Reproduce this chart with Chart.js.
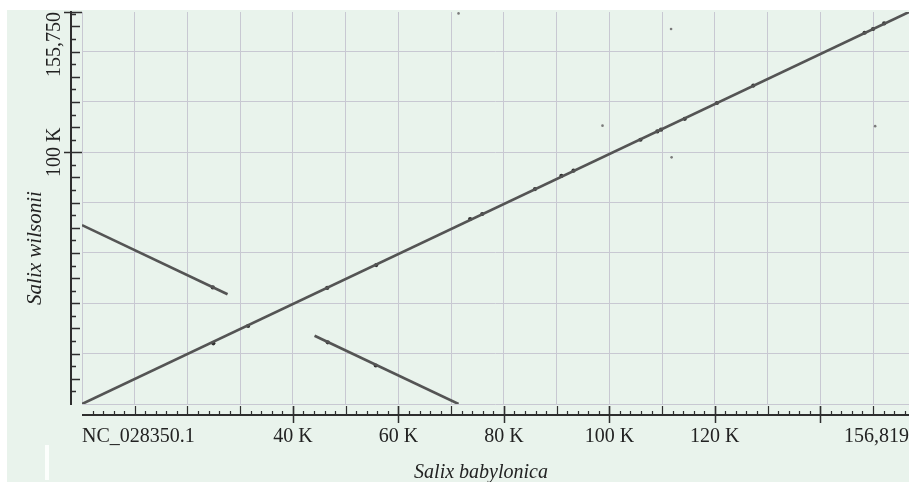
<!DOCTYPE html>
<html>
<head>
<meta charset="utf-8">
<script src="https://cdn.jsdelivr.net/npm/chart.js@4.4.1/dist/chart.umd.min.js"></script>
<style>
  html, body { margin: 0; padding: 0; overflow: hidden; background: #ffffff; width: 909px; height: 482px; }
  #clip { position: absolute; left: 0; top: 0; width: 909px; height: 482px; overflow: hidden; }
  #wrap { position: absolute; left: 0; top: 0; width: 913px; height: 482px; }
</style>
</head>
<body>
<div id="clip"><div id="wrap"><canvas id="c"></canvas></div></div>
<script>
// ---------------- data ----------------
const xAxisMax = 156819;           // Salix babylonica (NC_028350.1) length
const yAxisMax = 155750;           // Salix wilsonii length

const xTickValues = [0, 40000, 60000, 80000, 100000, 120000, 156819];
const xTickLabels = ['NC_028350.1', '40 K', '60 K', '80 K', '100 K', '120 K', '156,819'];
const yTickValues = [100000, 155750];
const yTickLabels = ['100 K', '155,750'];

const xTitle = 'Salix babylonica';
const yTitle = 'Salix wilsonii';

// main collinear diagonal
const diagX = [0, 156819];
const diagY = [0, 155750];
// inverted-repeat segments
const irAX = [0, 27600];
const irAY = [71100, 43600];
const irBX = [44100, 71400];
const irBY = [27100, 0];

// darker match marks along the lines
const markX = [24900, 31500, 46500, 55800, 73600, 75900, 85900, 90900, 93200, 105900, 109100, 109800, 114300, 120400, 127300, 148400, 150000, 152100, 24800, 46600, 55700];
const markY = [24100, 31000, 46100, 55200, 73500, 75500, 85400, 90600, 92700, 105000, 108300, 109000, 113300, 119600, 126500, 147500, 149000, 151200, 46300, 24500, 15300];

// isolated short matches
const strayX = [71400, 111700, 98700, 111800, 150400];
const strayY = [155200, 149000, 110600, 98000, 110400];

// ---------------- styles ----------------
const BG = '#e9f3ec';
const GRID = '#c8c8d2';
const LINE = '#545454';
const AXIS = '#2e2e2e';
const TEXT = '#222222';
const SERIF = "'Liberation Serif', 'DejaVu Serif', serif";
const xGridStep = 10000, yGridStep = 20000;
const xMinorStep = 2000, yMinorStep = 5000;

const pts = (xs, ys) => xs.map((v, i) => ({ x: v, y: ys[i] }));

const decor = {
  id: 'decor',
  beforeDraw(chart) {
    const { ctx, width, height } = chart;
    ctx.save();
    ctx.fillStyle = '#ffffff';
    ctx.fillRect(0, 0, width, height);
    ctx.fillStyle = BG;
    ctx.fillRect(7, 10, width - 7, height - 10);
    ctx.fillStyle = 'rgba(255,255,255,0.85)';
    ctx.fillRect(45, 445, 4, 35);
    ctx.restore();
  },
  afterDraw(chart) {
    const { ctx, chartArea } = chart;
    const xs = chart.scales.x, ys = chart.scales.y;
    const ax = chartArea.left - 11;     // y axis line
    const ay = chartArea.bottom + 11;   // x axis line
    ctx.save();
    ctx.strokeStyle = AXIS;
    ctx.lineCap = 'butt';
    // y axis
    ctx.lineWidth = 2;
    ctx.beginPath();
    ctx.moveTo(ax, ys.getPixelForValue(0) + 1);
    ctx.lineTo(ax, ys.getPixelForValue(yAxisMax) - 1);
    ctx.stroke();
    ctx.lineWidth = 1.3;
    ctx.beginPath();
    for (let v = yMinorStep; v < yAxisMax; v += yMinorStep) {
      const p = Math.round(ys.getPixelForValue(v)) + 0.5;
      const len = v % 10000 === 0 ? 9 : 5;
      ctx.moveTo(ax, p); ctx.lineTo(ax + len, p);
    }
    yTickValues.forEach(v => {
      const p = Math.round(ys.getPixelForValue(v)) + 0.5;
      ctx.moveTo(ax - 7, p); ctx.lineTo(ax + 11, p);
    });
    ctx.stroke();
    // x axis
    ctx.lineWidth = 2;
    ctx.beginPath();
    ctx.moveTo(xs.getPixelForValue(0), ay);
    ctx.lineTo(xs.getPixelForValue(xAxisMax), ay);
    ctx.stroke();
    ctx.lineWidth = 1.2;
    ctx.beginPath();
    for (let v = xMinorStep; v < xAxisMax; v += xMinorStep) {
      const p = Math.round(xs.getPixelForValue(v)) + 0.5;
      const len = v % 10000 === 0 ? 9 : 4;
      ctx.moveTo(p, ay); ctx.lineTo(p, ay - len);
    }
    ctx.stroke();
    ctx.lineWidth = 1.5;
    ctx.beginPath();
    for (let v = 40000; v <= 140000; v += 20000) {
      const p = Math.round(xs.getPixelForValue(v)) + 0.5;
      ctx.moveTo(p, ay - 9); ctx.lineTo(p, ay + 8);
    }
    ctx.stroke();
    // y tick labels (rotated)
    ctx.fillStyle = TEXT;
    ctx.font = '20px ' + SERIF;
    ctx.textBaseline = 'alphabetic';
    yTickValues.forEach((v, i) => {
      const p = ys.getPixelForValue(v);
      ctx.save();
      ctx.translate(60, p);
      ctx.rotate(-Math.PI / 2);
      ctx.textAlign = v === yAxisMax ? 'right' : 'center';
      ctx.fillText(yTickLabels[i], 0, 0);
      ctx.restore();
    });
    // axis titles
    ctx.font = 'italic 20px ' + SERIF;
    ctx.textAlign = 'center';
    ctx.fillText(xTitle, 481, 478);
    ctx.save();
    ctx.font = 'italic 21px ' + SERIF;
    ctx.translate(41, 248);
    ctx.rotate(-Math.PI / 2);
    ctx.fillText(yTitle, 0, 0);
    ctx.restore();
    ctx.restore();
  }
};

const lineDs = (label, xs, ys) => ({
  type: 'line', label, data: pts(xs, ys),
  borderColor: LINE, borderWidth: 2.6, pointRadius: 0, fill: false, tension: 0
});

new Chart(document.getElementById('c'), {
  type: 'scatter',
  data: {
    datasets: [
      lineDs('collinear', diagX, diagY),
      lineDs('IR A', irAX, irAY),
      lineDs('IR B', irBX, irBY),
      { label: 'marks', data: pts(markX, markY), pointRadius: 2.1, pointBackgroundColor: '#303030', pointBorderWidth: 0 },
      { label: 'stray', data: pts(strayX, strayY), pointRadius: 1.3, pointBackgroundColor: '#7a7a7a', pointBorderWidth: 0 }
    ]
  },
  options: {
    responsive: true,
    maintainAspectRatio: false,
    devicePixelRatio: 1,
    animation: false,
    layout: { padding: { top: 12, left: 0, right: 0, bottom: 0 } },
    plugins: { legend: { display: false }, tooltip: { enabled: false } },
    scales: {
      x: {
        type: 'linear', position: 'bottom', min: 0, max: xAxisMax,
        afterBuildTicks(scale) {
          const t = [];
          for (let v = 0; v < xAxisMax; v += xGridStep) t.push({ value: v });
          t.push({ value: xAxisMax });
          scale.ticks = t;
        },
        afterFit(scale) { scale.height = 78; },
        grid: {
          color: c => (c.tick && c.tick.value === xAxisMax) ? 'rgba(0,0,0,0)' : GRID,
          lineWidth: 1, drawTicks: true, tickLength: 21, tickColor: 'rgba(0,0,0,0)'
        },
        border: { display: false },
        ticks: {
          autoSkip: false, maxRotation: 0, minRotation: 0, align: 'inner', padding: 0,
          color: TEXT, font: { family: SERIF, size: 20 },
          callback: (v) => { const i = xTickValues.indexOf(v); return i >= 0 ? xTickLabels[i] : ''; }
        }
      },
      y: {
        type: 'linear', position: 'left', min: 0, max: yAxisMax,
        afterBuildTicks(scale) {
          const t = [];
          for (let v = 0; v < yAxisMax; v += yGridStep) t.push({ value: v });
          t.push({ value: yAxisMax });
          scale.ticks = t;
        },
        afterFit(scale) { scale.width = 82; },
        grid: {
          color: c => (c.tick && c.tick.value === yAxisMax) ? 'rgba(0,0,0,0)' : GRID,
          lineWidth: 1, drawTicks: false
        },
        border: { display: false },
        ticks: { display: false, padding: 0 }
      }
    }
  },
  plugins: [decor]
});
</script>
</body>
</html>
